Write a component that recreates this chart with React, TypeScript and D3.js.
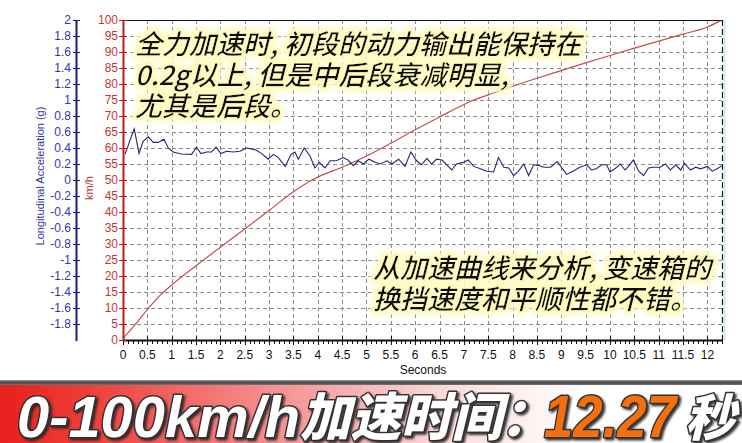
import React from "react";
import * as d3 from "d3";

const W = 742;
const H = 443;

// Speed curve (km/h) vs time (s)
const speedTime = [0, 0.25, 0.5, 0.75, 1, 1.5, 2, 2.5, 3, 3.5, 3.8, 4, 4.5, 5, 5.5, 6, 6.5, 7, 7.2, 7.5, 8, 8.5, 9, 9.5, 10, 10.5, 11, 11.5, 12, 12.27];
const speedKmh = [0.5, 4.8, 9.5, 13.8, 17.2, 23.2, 29, 34.7, 40.5, 46.3, 49.3, 50.9, 54, 57.5, 61.5, 65.7, 69.7, 73.6, 75, 76.6, 79.3, 81.8, 84.2, 86.6, 88.9, 91.2, 93.4, 95.6, 97.8, 99.8];

// Longitudinal acceleration (g) vs time (s)
const accTime = [0.04, 0.23, 0.33, 0.41, 0.52, 0.62, 0.72, 0.84, 0.93, 1.03, 1.2, 1.41, 1.51, 1.6, 1.72, 1.82, 1.91, 2.01, 2.13, 2.26, 2.4, 2.54, 2.71, 2.85, 2.98, 3.09, 3.19, 3.33, 3.45, 3.53, 3.6, 3.72, 3.84, 3.94, 4.03, 4.15, 4.25, 4.38, 4.52, 4.62, 4.73, 4.83, 4.94, 5.05, 5.19, 5.28, 5.42, 5.52, 5.66, 5.79, 5.91, 6.03, 6.13, 6.24, 6.34, 6.44, 6.55, 6.65, 6.75, 6.85, 6.99, 7.09, 7.2, 7.34, 7.47, 7.61, 7.71, 7.82, 7.92, 8.02, 8.12, 8.23, 8.33, 8.43, 8.54, 8.64, 8.78, 8.92, 9.0, 9.11, 9.24, 9.38, 9.52, 9.62, 9.72, 9.83, 9.93, 10.0, 10.1, 10.21, 10.31, 10.38, 10.48, 10.59, 10.69, 10.79, 10.9, 11.03, 11.14, 11.24, 11.35, 11.45, 11.53, 11.65, 11.76, 11.86, 12.0, 12.1, 12.2, 12.3];
const accG = [0.32, 0.64, 0.33, 0.48, 0.54, 0.47, 0.47, 0.51, 0.4, 0.35, 0.325, 0.32, 0.41, 0.33, 0.35, 0.35, 0.41, 0.33, 0.36, 0.35, 0.36, 0.4, 0.38, 0.33, 0.26, 0.32, 0.28, 0.17, 0.32, 0.35, 0.26, 0.4, 0.3, 0.15, 0.22, 0.15, 0.24, 0.24, 0.28, 0.25, 0.18, 0.24, 0.2, 0.26, 0.22, 0.2, 0.24, 0.2, 0.26, 0.17, 0.35, 0.24, 0.19, 0.27, 0.2, 0.26, 0.25, 0.19, 0.125, 0.2, 0.22, 0.25, 0.17, 0.14, 0.11, 0.1, 0.28, 0.16, 0.15, 0.055, 0.11, 0.2, 0.055, 0.19, 0.18, 0.16, 0.16, 0.23, 0.16, 0.07, 0.11, 0.16, 0.19, 0.125, 0.14, 0.19, 0.19, 0.1, 0.14, 0.2, 0.125, 0.17, 0.25, 0.11, 0.055, 0.15, 0.16, 0.16, 0.2, 0.125, 0.19, 0.125, 0.21, 0.125, 0.16, 0.14, 0.17, 0.11, 0.14, 0.18];

const xTicks = d3.range(0, 12.01, 0.5);
const xMinor = d3.range(0, 12.31, 0.1);
const speedTicks = d3.range(0, 101, 5);
const accTicks = d3.range(-1.8, 2.01, 0.2).map((v) => Math.round(v * 10) / 10);

const note1 = ["全力加速时, 初段的动力输出能保持在", "0.2g以上, 但是中后段衰减明显,", "尤其是后段。"];
const note2 = ["从加速曲线来分析, 变速箱的", "换挡速度和平顺性都不错。"];
const bannerA = "0-100km/h";
const bannerB = "加速时间";
const bannerColon = "：";
const bannerTime = "12.27";
const bannerUnit = "秒";

export default function App() {
  const left = 123;
  const right = 722;
  const top = 20;
  const bottom = 340;
  const x = d3.scaleLinear().domain([0, 12.3]).range([left, right]);
  const yS = d3.scaleLinear().domain([0, 100]).range([bottom, top]);
  const yA = d3.scaleLinear().domain([-2, 2]).range([bottom, top]);

  const speedLine = d3
    .line<number>()
    .curve(d3.curveMonotoneX)
    .x((_, i) => x(speedTime[i]))
    .y((d) => yS(d))(speedKmh) as string;
  const accLine = d3
    .line<number>()
    .x((_, i) => x(accTime[i]))
    .y((d) => yA(d))(accG) as string;

  const blueAxisX = 76;
  const sans = "Liberation Sans, Arial, sans-serif";
  const cjk = "'Noto Sans CJK SC', sans-serif";

  const bannerItems = [
    { t: bannerA, x: 17, y: 437, ff: sans, fw: 700, fs: 58, fill: "#fff", len: 283 },
    { t: bannerB, x: 300, y: 436, ff: cjk, fw: 900, fs: 52, fill: "#fff", len: 202 },
    { t: bannerColon, x: 500, y: 436, ff: cjk, fw: 900, fs: 52, fill: "#fff", len: 0 },
    { t: bannerTime, x: 544, y: 437, ff: sans, fw: 700, fs: 60, fill: "#f5700f", len: 132 },
    { t: bannerUnit, x: 685, y: 436, ff: cjk, fw: 900, fs: 50, fill: "#fff", len: 50 },
  ];

  return (
    <svg width={W} height={H} style={{ position: "absolute", left: 0, top: 0, background: "#fff" }} xmlns="http://www.w3.org/2000/svg">
      <defs>
        <filter id="glow" x="-10%" y="-30%" width="120%" height="160%">
          <feMorphology in="SourceAlpha" operator="dilate" radius="3" result="d" />
          <feGaussianBlur in="d" stdDeviation="2.5" result="b" />
          <feFlood floodColor="#fffbc0" result="f" />
          <feComposite in="f" in2="b" operator="in" result="g" />
          <feMerge>
            <feMergeNode in="g" />
            <feMergeNode in="g" />
            <feMergeNode in="SourceGraphic" />
          </feMerge>
        </filter>
        <filter id="shadow" x="-5%" y="-20%" width="110%" height="150%">
          <feDropShadow dx="2" dy="2" stdDeviation="1.2" floodColor="#222" floodOpacity="0.9" />
        </filter>
        <linearGradient id="bannerGrad" x1="0" y1="0" x2="1" y2="0">
          <stop offset="0" stopColor="#e8201c" />
          <stop offset="0.12" stopColor="#ef3e3a" />
          <stop offset="0.35" stopColor="#f58a8a" />
          <stop offset="0.6" stopColor="#fcdada" />
          <stop offset="0.78" stopColor="#ffffff" />
          <stop offset="1" stopColor="#ffffff" />
        </linearGradient>
        <linearGradient id="topBar" x1="0" y1="0" x2="0" y2="1">
          <stop offset="0" stopColor="#9a9a9a" />
          <stop offset="0.5" stopColor="#444" />
          <stop offset="1" stopColor="#777" />
        </linearGradient>
      </defs>

      {/* grid */}
      <g stroke="#8a8a8a" strokeWidth={1} strokeDasharray="4,3">
        {speedTicks.filter((v) => v > 0 && v < 100).map((v) => (
          <line key={"h" + v} x1={left} x2={right} y1={yS(v) + 0.5} y2={yS(v) + 0.5} />
        ))}
        {xTicks.filter((v) => v > 0).map((v) => (
          <line key={"v" + v} x1={Math.round(x(v)) + 0.5} x2={Math.round(x(v)) + 0.5} y1={top} y2={bottom} />
        ))}
      </g>

      {/* frame */}
      <line x1={left} x2={right} y1={top + 0.5} y2={top + 0.5} stroke="#111" strokeWidth={1.2} />
      <line x1={right + 0.5} x2={right + 0.5} y1={top} y2={bottom} stroke="#111" strokeWidth={1.2} strokeDasharray="6,3" />
      <line x1={right + 2.5} x2={right + 2.5} y1={top} y2={bottom} stroke="#c8eef2" strokeWidth={2} />

      {/* curves */}
      <path d={speedLine} fill="none" stroke="#c0504d" strokeWidth={1.2} />
      <path d={accLine} fill="none" stroke="#262670" strokeWidth={1.1} />

      {/* bottom axis */}
      <line x1={left} x2={right} y1={bottom + 0.5} y2={bottom + 0.5} stroke="#111" strokeWidth={2} />
      <g stroke="#111" strokeWidth={1}>
        {xMinor.map((v, i) => (
          <line key={"m" + i} x1={Math.round(x(v)) + 0.5} x2={Math.round(x(v)) + 0.5} y1={bottom} y2={bottom + 4} />
        ))}
        {xTicks.map((v) => (
          <line key={"t" + v} x1={Math.round(x(v)) + 0.5} x2={Math.round(x(v)) + 0.5} y1={bottom - 4} y2={bottom + 5} />
        ))}
      </g>
      <g fontFamily={sans} fontSize={12} fill="#111" textAnchor="middle">
        {xTicks.map((v) => (
          <text key={"xl" + v} x={x(v)} y={359}>{String(v)}</text>
        ))}
        <text x={423} y={374}>Seconds</text>
      </g>

      {/* speed axis (red) */}
      <line x1={left + 0.5} x2={left + 0.5} y1={top} y2={bottom + 1} stroke="#b82020" strokeWidth={2} />
      <g stroke="#b82020" strokeWidth={1}>
        {speedTicks.map((v) => (
          <line key={"st" + v} x1={left - 4} x2={left + 4} y1={yS(v) + 0.5} y2={yS(v) + 0.5} />
        ))}
      </g>
      <g fontFamily={sans} fontSize={12} fill="#c83232" textAnchor="end">
        {speedTicks.map((v) => (
          <text key={"sl" + v} x={118} y={yS(v) + 4}>{String(v)}</text>
        ))}
      </g>
      <text transform={`translate(93,188) rotate(-90)`} fontFamily={sans} fontSize={11} fill="#b03030" textAnchor="middle">km/h</text>

      {/* acceleration axis (blue) */}
      <line x1={blueAxisX + 0.5} x2={blueAxisX + 0.5} y1={top} y2={bottom + 1} stroke="#1c1c80" strokeWidth={2} />
      <g stroke="#1c1c80" strokeWidth={1}>
        {accTicks.concat([2]).filter((v, i, a) => a.indexOf(v) === i).map((v) => (
          <line key={"at" + v} x1={blueAxisX - 3} x2={blueAxisX + 4} y1={yA(v) + 0.5} y2={yA(v) + 0.5} />
        ))}
      </g>
      <g fontFamily={sans} fontSize={12} fill="#3535a5" textAnchor="end">
        {accTicks.map((v) => (
          <text key={"al" + v} x={71} y={yA(v) + 4}>{String(v)}</text>
        ))}
      </g>
      <text transform={`translate(44,176) rotate(-90)`} fontFamily={sans} fontSize={11} fill="#3535a5" textAnchor="middle">Longitudinal Acceleration (g)</text>

      {/* annotations */}
      <g fontFamily={cjk} fontSize={27} fontWeight={500} fontStyle="italic" fill="#111" filter="url(#glow)">
        {note1.map((s, i) => (
          <text key={"n1" + i} x={135} y={54 + i * 31}>{s}</text>
        ))}
        {note2.map((s, i) => (
          <text key={"n2" + i} x={373} y={278 + i * 31}>{s}</text>
        ))}
      </g>

      {/* banner */}
      <rect x={0} y={384} width={W} height={H - 384} fill="url(#bannerGrad)" />
      <rect x={0} y={380} width={W} height={5} fill="url(#topBar)" />
      <g filter="url(#shadow)" fontStyle="italic">
        {bannerItems.map((b, i) => (
          <text key={"b" + i} x={b.x} y={b.y} fontFamily={b.ff} fontWeight={b.fw} fontSize={b.fs} fill={b.fill} stroke="#333" strokeWidth={3} strokeLinejoin="round"
            style={{ paintOrder: "stroke" }}
            {...(b.len ? { textLength: b.len, lengthAdjust: "spacingAndGlyphs" } : {})}>{b.t}</text>
        ))}
      </g>
    </svg>
  );
}
